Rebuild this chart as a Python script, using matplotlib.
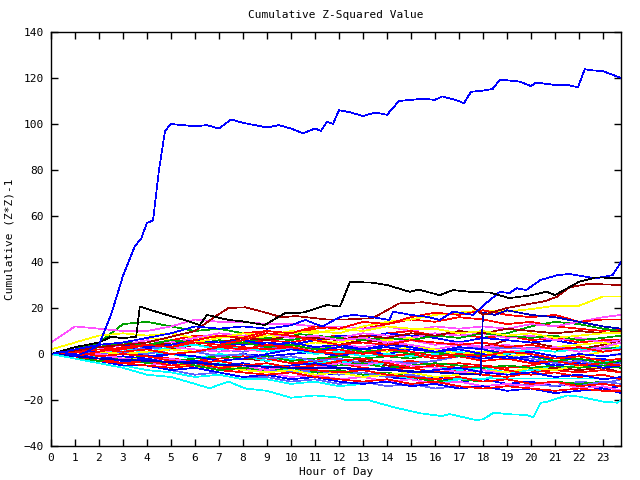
import matplotlib
matplotlib.use("Agg")
import matplotlib.pyplot as plt

plt.rcParams['font.family'] = ['DejaVu Sans Mono']

# hourly grid used by most of the walks
hours = list(range(24)) + [23.75]

# the walks that stand out, read with their own time points
big_blue_hours = [0, 0.5, 1, 1.5, 2, 2.5, 3, 3.5, 3.75, 4, 4.25, 4.5, 4.75, 5, 5.5, 6, 6.5, 7, 7.5, 8,
                  9, 9.5, 10, 10.5, 11, 11.25, 11.5, 11.75, 12, 12.5, 13, 13.5, 14, 14.5, 15, 15.5, 16,
                  16.3, 17, 17.2, 17.5, 18, 18.4, 18.7, 19, 19.5, 20, 20.2, 21, 21.5, 21.96, 22.24,
                  22.6, 23, 23.5, 23.75]
big_blue = [0, 1, -1, 1, 4, 17, 34, 47, 50, 57, 58, 80, 97, 100, 99.5, 99, 99.5, 98, 102, 100.5,
            98.5, 99.5, 98, 96, 98, 97, 101, 100, 106, 105, 103.5, 105, 104, 110, 110.5, 111, 110.5,
            112, 110, 109, 114, 114.5, 115.2, 119.3, 119, 118.5, 116.5, 118, 117, 117, 116, 123.8,
            123.3, 123, 121, 120]

black_hours = [0, 1, 2, 2.5, 3, 3.55, 3.7, 4.5, 5.65, 6.2, 6.5, 7.4, 7.9, 8.9, 9.75, 10.5, 11.5, 12.04,
               12.46, 13.4, 14, 14.96, 15.3, 16.2, 16.75, 17.5, 18.3, 19.1, 20, 20.65, 21, 22, 22.7,
               23.75]
black = [0, 3, 5, 7.5, 6.9, 7.5, 20.6, 18, 14.5, 12.6, 17, 14.8, 14.3, 12.6, 17.8, 18, 21.3, 20.6,
         31.4, 31, 30, 27, 28, 25.6, 27.8, 27, 26.7, 24.3, 25.5, 27.1, 25.6, 31.4, 33.3, 33]

blue_up_hours = [0, 1, 2, 3, 4, 5, 6, 7, 8, 9, 10, 10.6, 11.3, 11.8, 12.1, 12.6, 13.3, 14.1, 14.25, 15,
                 15.65, 16.2, 16.75, 17.6, 18, 18.7, 19.1, 19.4, 19.8, 20.4, 21.1, 21.6, 22.3, 22.7,
                 23.4, 23.75]
blue_up = [0, 2, 4, 5, 7, 9, 12, 11, 12, 11, 12.5, 14.8, 11.9, 14.8, 16.2, 17, 16.2, 14.8, 18.4, 17,
           16.2, 14.8, 18.4, 17, 21, 27, 26.5, 28.6, 27.8, 32.2, 34.3, 34.8, 33.6, 32.9, 34.3, 40]

blue_jump_hours = [0, 2, 4, 6, 8, 10, 12, 14, 16, 17.9, 18, 18.5, 19, 20, 21, 22, 23, 23.75]
blue_jump = [0, -2, -3, -4, -5, -6, -6, -7, -8, -9, 18, 17, 19, 17, 16, 14, 12, 11]

darkred_up_hours = [0, 2, 4, 6, 6.8, 7.4, 8.1, 8.8, 9.6, 10.2, 11.5, 12.25, 13.4, 14, 14.5, 15.5, 16.5,
                    17.5, 18, 19, 19.5, 20.6, 21.1, 21.6, 22.4, 23.75]
darkred_up = [0, 3, 5, 10, 16, 20, 20.3, 18.4, 16, 16.5, 15, 15, 15.6, 19, 22, 22.5, 21, 21, 17, 20,
              21, 23, 25, 29, 30.5, 30]

cyan_low_hours = [0, 1, 2, 3, 4, 5, 6, 6.6, 7.4, 8.1, 9, 10, 11, 12, 12.25, 13.2, 14.3, 15.4, 16.3,
                  16.6, 17.7, 18, 18.45, 19.1, 19.8, 20.1, 20.4, 20.7, 21.5, 22, 23, 23.6, 23.75]
cyan_low = [0, -2, -4, -6, -9, -10, -13, -14.9, -12, -15, -16, -19, -18, -19, -20, -20, -23.2, -25.8,
            -27, -26.1, -28.7, -28.4, -25.5, -26.2, -26.5, -27.5, -21.2, -20.7, -18, -18.5, -20.7,
            -21.2, -20]

# the tangle, grouped by colour (one value per hour)
reds = [
    [0, 2, 3, 5, 4, 6, 8, 7, 9, 10, 9, 11, 12, 11, 13, 15, 14, 16, 15, 13, 14, 12, 11, 10, 11],
    [0, -1, 1, 2, 1, 3, 4, 3, 5, 6, 5, 7, 8, 7, 9, 10, 8, 9, 7, 8, 6, 7, 5, 6, 6],
    [0, -2, -3, -2, -4, -5, -4, -6, -7, -6, -5, -3, -4, -6, -7, -6, -8, -7, -9, -10, -8, -7, -8, -7, -8],
    [0, 1, 0, -2, -1, -2, -3, -2, -1, -2, -4, -3, -1, -2, -4, -3, -5, -4, -5, -6, -5, -3, -4, -5, -5],
    [0, -1, -3, -4, -5, -6, -5, -7, -8, -9, -8, -10, -11, -12, -11, -13, -12, -14, -15, -14, -15, -16, -15, -16, -16],
    [0, 2, 4, 5, 4, 6, 5, 4, 3, 2, 3, 1, 0, 1, -1, 0, -2, -1, -3, -2, -4, -3, -5, -4, -5],
    [0, 1, -1, 0, -1, -3, -4, -3, -5, -4, -6, -5, -3, -2, -4, -6, -5, -6, -5, -7, -9, -8, -10, -9, -11],
    [0, 2, 3, 2, 4, 3, 5, 4, 6, 9, 8, 6, 4, 5, 4, 6, 5, 4, 5, 3, 4, 2, 3, 1, 2],
    [0, -1, 1, 3, 4, 3, 6, 8, 7, 10, 9, 12, 11, 14, 13, 16, 18, 17, 19, 17, 16, 17, 14, 15, 15],
    [0, -1, -2, -4, -3, -5, -4, -6, -5, -4, -6, -7, -8, -7, -9, -10, -11, -10, -12, -11, -13, -12, -14, -13, -14],
    [0, 1, 2, 1, 2, 0, 1, 3, 2, 4, 3, 1, 2, 0, 2, 1, -1, 0, -1, 1, 0, -2, -1, -3, -2],
]
greens = [
    [0, 2, 5, 13, 14, 12, 10, 11, 9, 8, 9, 8, 6, 7, 5, 6, 4, 5, 7, 9, 12, 14, 13, 11, 10],
    [0, -1, -3, -2, -4, -3, -5, -6, -5, -7, -6, -8, -7, -9, -8, -10, -12, -11, -12, -11, -13, -12, -13, -12, -13],
    [0, 1, 3, 2, 4, 5, 4, 6, 5, 7, 6, 8, 7, 6, 7, 6, 8, 7, 9, 8, 7, 8, 6, 7, 8],
    [0, -1, 0, -2, -1, -3, -2, -1, -2, -1, -3, -2, -1, -2, -1, -2, 0, -1, 1, 0, 2, 1, 3, 2, 3],
    [0, -2, -3, -2, -4, -3, -5, -7, -6, -7, -5, -4, -5, -4, -6, -5, -4, -5, -6, -5, -6, -5, -6, -5, -6],
    [0, 1, 3, 5, 4, 6, 5, 4, 5, 3, 4, 2, 3, 1, 2, 0, 1, -1, 0, -2, -1, -3, -2, -4, -3],
]
blues = [
    [0, -1, -1, -3, -3, -4, -5, -4, -6, -7, -6, -8, -9, -8, -10, -11, -10, -12, -11, -13, -12, -14, -13, -15, -14],
    [0, 2, 1, 3, 2, 4, 6, 5, 4, 5, 4, 6, 8, 7, 9, 8, 7, 5, 7, 6, 5, 6, 4, 5, 3],
    [0, 1, 0, 1, -1, 0, -2, -1, 0, -1, 0, 1, -1, 1, 0, 2, 1, 3, 2, 0, 1, -1, -3, -2, -4],
    [0, -2, -3, -5, -5, -7, -6, -8, -10, -9, -11, -10, -12, -13, -12, -14, -13, -15, -14, -16, -15, -17, -16, -15, -17],
    [0, 1, 2, 4, 3, 4, 6, 5, 6, 4, 5, 3, 4, 2, 3, 1, -1, 0, -2, -1, -3, -5, -4, -6, -5],
    [0, -1, -2, -1, -2, 0, -1, -3, -2, 0, 2, 1, 3, 2, 4, 3, 1, 2, 0, -2, -1, -2, 0, -1, 0],
    [0, 0, -2, -3, -2, -4, -3, -5, -4, -6, -5, -4, -6, -7, -6, -8, -7, -6, -8, -9, -8, -10, -9, -11, -10],
]
light_blues = [
    [0, -2, -3, -5, -5, -7, -9, -8, -10, -10, -12, -11, -13, -12, -14, -13, -15, -14, -15, -14, -13, -14, -12, -13, -11],
    [0, 1, 2, 1, 3, 2, 1, 2, 1, 3, 2, 3, 1, 2, 3, 2, 1, 2.5, 2.5, 2.5, 2.5, 2.5, 2.5, 2.5, 2.5],
    [0, -1, -3, -2, -4, -3, -5, -6, -5, -7, -8, -7, -9, -8, -10, -9, -11, -10, -12, -11, -13, -12, -14, -12, -13],
    [0, 1, 0, 1, 0, 2, 1, -1, 0, -2, -1, -3, -2, -4, -3, -4, -3, -1, -2, -1, -2, -4, -3, -5, -4],
]
magentas = [
    [5, 12, 11, 10, 10, 12, 15, 14, 14, 13, 13, 12, 12, 11, 12, 10, 12, 11, 12, 11, 13, 12, 14, 16, 17],
    [0, 1, 3, 2, 4, 5, 4, 6, 5, 7, 6, 8, 7, 9, 8, 7, 9, 8, 9, 7, 8, 6, 7, 5, 6],
    [0, -1, -3, -2, -4, -5, -5, -7, -6, -8, -10, -9, -11, -10, -12, -11, -13, -12, -14, -13, -14, -12, -15, -14, -16],
    [0, -1, 1, 2, 1, 3, 2, 1, 2, 1, 3, 2, 4, 3, 5, 4, 2, 4, 3, 1, 2, 3, 1, 3, 5],
    [0, 1, 2, 4, 6, 5, 7, 9, 8, 9, 7, 8, 6, 7, 5, 6, 4, 5, 3, 4, 2, 3, 1, 2, 2],
    [0, -1, 0, -2, -3, -2, -4, -3, -5, -7, -5, -6, -4, -5, -3, -5, -6, -8, -7, -9, -8, -10, -9, -11, -10],
]
cyans = [
    [0, -1, -1, -3, -2, -4, -5, -4, -6, -5, -7, -8, -7, -9, -9, -10.6, -10.6, -10.6, -10.6, -10.6, -10.6, -10.6, -10.6, -10.6, -10.6],
    [0, -2, -3, -5, -7, -8, -10, -9, -11, -11, -13, -12, -14, -13, -12, -14, -13, -11, -11, -8, -8, -6, -5, -3, -4],
    [0, 1, 0, 2, 1, 0, -2, 0, -1, -3, -2, -4, -3, -5, -4, -6, -5, -7, -6, -8, -7, -5, -4, -5, -5],
    [0, 1, 2, 2, 1, 3, 4, 2, 3, 1, 2, 0, 1, -1, 0, -1, 0, 1, -1, 0, 2, 1, 2, 1, 3],
]
yellows = [
    [2, 5, 8, 9, 8, 9, 7, 8, 7, 8, 9, 10, 9, 12, 14, 15, 17, 18, 19, 18.5, 19.5, 21, 21, 25, 25],
    [0, 2, 4, 5, 4, 6, 5, 7, 8, 7, 8, 6, 5, 7, 6, 7, 4, 5, 3, 4, 2, 3, 4, 5, 3],
    [0, -1, -2, -1, -3, -4, -6, -5, -7, -8, -7, -9, -8, -10, -9, -8, -10, -9, -7, -8, -6, -7, -5, -6, -4],
    [0, -1, 1, 0, 1, 2, 1, 3, 2, 4, 3, 5, 4, 2, 1, 3, 2, 0, 1, -1, 0, -2, -1, 1, 2],
    [0, 1, 3, 5, 7, 6, 5, 7, 9, 8, 10, 9, 11, 10, 12, 11, 11, 9, 10, 8, 9, 7, 8, 9, 9],
]
dark_reds = [
    [0, 1, 2, 1, 3, 2, 4, 3, 5, 4, 3, 5, 4, 6, 5, 3, 2, 4, 3, 6, 5, 3, 2, 4, 6],
    [0, -1, -2, -1, -3, -2, -4, -3, -2, -3, -2, -5, -4, -3, -5, -6, -5, -7, -6, -8, -7, -6, -7, -6, -8],
    [0, 1, 2, 4, 3, 5, 6, 5, 7, 6, 8, 7, 6, 8, 7, 9, 8, 10, 9, 11, 10, 9, 10, 9, 10],
]

hour_ticks = list(range(24))
value_ticks = list(range(-40, 141, 20))

fig = plt.figure(figsize=(6.4, 4.8), dpi=100)
ax = fig.add_axes([51 / 640, 1 - 446 / 480, 570 / 640, 414 / 480])

style = dict(lw=0.5, antialiased=False)
groups = [(reds, '#ff0000'), (greens, '#00a000'), (blues, '#0000ff'), (light_blues, '#6060ff'),
          (magentas, '#ff50ff'), (cyans, '#00ffff'), (yellows, '#ffff00'), (dark_reds, '#a00000')]
# interleave the colours so no single colour sits on top of the tangle
for i in range(max(len(g) for g, _ in groups)):
    for series, col in groups:
        if i < len(series):
            ax.plot(hours, series[i], color=col, **style)

ax.plot(blue_jump_hours, blue_jump, color='#0000c0', **style)
ax.plot(darkred_up_hours, darkred_up, color='#a00000', **style)
ax.plot(cyan_low_hours, cyan_low, color='#00ffff', **style)
ax.plot(blue_up_hours, blue_up, color='#0000ff', **style)
ax.plot(black_hours, black, color='#000000', **style)
ax.plot(big_blue_hours, big_blue, color='#0000ff', **style)

ax.set_xlim(0, 23.75)
ax.set_ylim(-40, 140)
ax.set_xticks(hour_ticks)
ax.set_yticks(value_ticks)
ax.tick_params(direction='in', length=5, width=1, top=True, right=True, labelsize=8, pad=5)
for s in ax.spines.values():
    s.set_linewidth(1)

fig.text(336 / 640, 1 - 15 / 480, 'Cumulative Z-Squared Value', ha='center', va='center', fontsize=8)
fig.text(336 / 640, 1 - 472 / 480, 'Hour of Day', ha='center', va='center', fontsize=8)
fig.text(10 / 640, 1 - 239 / 480, 'Cumulative (Z*Z)-1', ha='center', va='center', rotation=90, fontsize=8)

fig.savefig('out.png', dpi=100)
